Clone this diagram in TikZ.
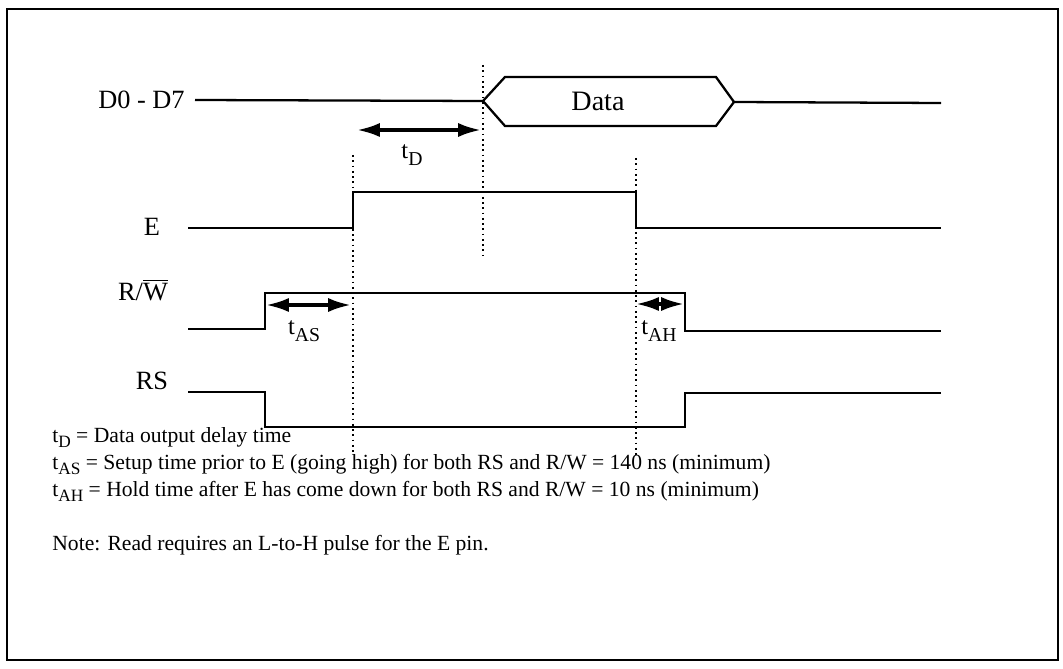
\documentclass[tikz,border=0pt]{standalone}
\usepackage{fontspec}
\setmainfont{Liberation Serif}
\usetikzlibrary{arrows.meta}

\newcommand\tsub[1]{t\raisebox{-0.6ex}{\scalebox{0.8}{#1}}}

\begin{document}
\begin{tikzpicture}[x=0.02cm,y=-0.02cm,
  sig/.style={line width=1.3pt},
  guide/.style={dotted,line width=1pt},
  span/.style={{Latex[length=13pt,width=8pt]}-{Latex[length=13pt,width=8pt]},line width=2pt},
  lbl/.style={font=\fontsize{15}{17}\selectfont,inner sep=0pt},
  tlbl/.style={font=\fontsize{14}{16}\selectfont,inner sep=0pt},
  note/.style={anchor=base west,font=\fontsize{12.3}{14}\selectfont,inner sep=0pt}]
\useasboundingbox (0,0) rectangle (1063,669);
\draw[line width=1.5pt] (7,9) rectangle (1058,660);

% signal names
\node[lbl,anchor=east] (dlbl) at (185,100) {D0 - D7};
\node[lbl] (elbl) at (152,227) {E};
\node[lbl] (rwlbl) at (143,290) {R/$\overline{\mbox{W}}$};
\node[lbl] (rslbl) at (152,381) {RS};

% D0 - D7 bus
\draw[sig] (195,100) -- (483,101) -- (505,77) -- (716,77) -- (734,102) -- (716,126) -- (505,126) -- (483,101);
\draw[sig] (734,102) -- (941,103);
\node[font=\fontsize{16}{18}\selectfont,inner sep=0pt] (data) at (598,101) {Data};

% E
\draw[sig] (188,228) -- (353,228) -- (353,192) -- (636,192) -- (636,228) -- (941,228);

% R/W
\draw[sig] (188,329) -- (265,329) -- (265,293) -- (685,293) -- (685,331) -- (941,331);

% RS
\draw[sig] (188,392) -- (265,392) -- (265,427) -- (685,427) -- (685,393) -- (941,393);

% guide lines
\draw[guide] (483,65) -- (483,256);
\draw[guide] (353,155) -- (353,455);
\draw[guide] (636,158) -- (636,455);

% timing spans
\coordinate (td1) at (357,130);
\coordinate (td2) at (481,130);
\draw[span] (td1) -- (td2);
\node[tlbl] (td) at (412,155) {\tsub{D}};

\coordinate (tas1) at (266,305);
\coordinate (tas2) at (351,305);
\draw[span] (tas1) -- (tas2);
\node[tlbl] (tas) at (304,331) {\tsub{AS}};

\coordinate (tah1) at (636,304);
\coordinate (tah2) at (684,304);
\draw[span] (tah1) -- (tah2);
\node[tlbl] (tah) at (659,331) {\tsub{AH}};

% notes
\node[note] (n1) at (52,442) {\tsub{D} = Data output delay time};
\node[note] (n2) at (52,469) {\tsub{AS} = Setup time prior to E (going high) for both RS and R/W = 140 ns (minimum)};
\node[note] (n3) at (52,496) {\tsub{AH} = Hold time after E has come down for both RS and R/W = 10 ns (minimum)};
\node[note] (n4) at (52,550) {Note: Read requires an L-to-H pulse for the E pin.};
\end{tikzpicture}
\end{document}
